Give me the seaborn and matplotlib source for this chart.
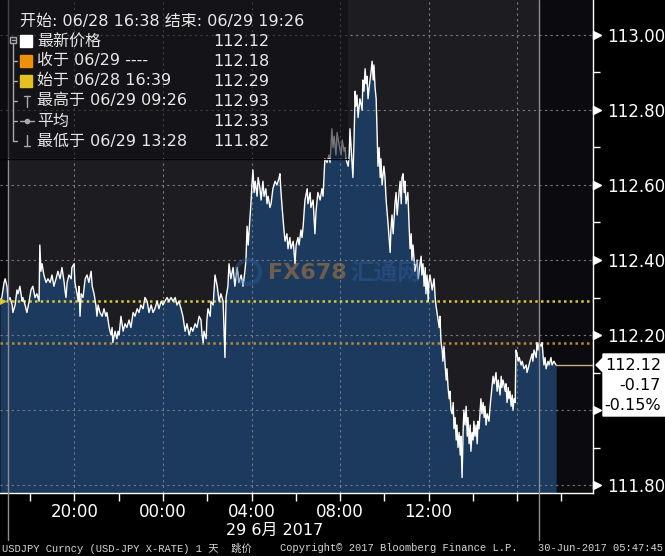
import matplotlib
matplotlib.use("Agg")
import numpy as np
import pandas as pd
import matplotlib.pyplot as plt
import seaborn as sns
from matplotlib.transforms import blended_transform_factory
from matplotlib.patches import Rectangle, Polygon, Circle

# USDJPY ticks, minutes after 06/28 16:38
t_evening = [0, 5, 11, 14, 19, 22, 27, 33, 35, 41,
             46, 49, 54, 60, 62, 68, 73, 79, 84, 89,
             95, 100, 106, 108, 111, 114, 119, 125, 130, 136,
             141, 146, 152, 157, 163, 168, 174, 176, 179, 182,
             187, 193, 195, 201, 203, 209, 212, 214, 217, 220,
             225, 231, 236, 241, 247, 250, 255, 260, 263, 266,
             271, 277, 282, 287, 290, 296, 301, 304, 306, 312,
             317]
p_evening = [112.29, 112.30, 112.34, 112.35, 112.33, 112.29, 112.30, 112.28, 112.26, 112.28,
             112.32, 112.31, 112.33, 112.29, 112.30, 112.28, 112.26, 112.29, 112.32, 112.33,
             112.30, 112.31, 112.29, 112.44, 112.37, 112.39, 112.36, 112.34, 112.35, 112.34,
             112.36, 112.33, 112.35, 112.37, 112.35, 112.38, 112.34, 112.32, 112.30, 112.34,
             112.36, 112.35, 112.38, 112.39, 112.34, 112.31, 112.29, 112.33, 112.25, 112.31,
             112.30, 112.35, 112.36, 112.34, 112.37, 112.33, 112.31, 112.28, 112.25, 112.28,
             112.26, 112.25, 112.27, 112.25, 112.26, 112.22, 112.20, 112.22, 112.18, 112.21,
             112.19]

t_night = [320, 323, 328, 334, 339, 344, 350, 355, 361, 366,
           372, 377, 382, 388, 393, 399, 404, 410, 415, 420,
           426, 431, 437, 442, 447, 453, 458, 464, 469, 475,
           480, 485, 491, 496, 502, 507, 513, 518, 523, 529,
           534, 540, 545, 548, 551, 553, 559, 561, 564, 570,
           572, 578, 583, 589, 594, 599, 605, 610, 613, 618,
           621, 626, 632, 637, 643, 648, 654, 659, 664, 667]
p_night = [112.21, 112.20, 112.25, 112.21, 112.23, 112.22, 112.24, 112.22, 112.26, 112.25,
           112.27, 112.26, 112.28, 112.27, 112.30, 112.29, 112.26, 112.28, 112.26, 112.27,
           112.29, 112.27, 112.29, 112.28, 112.29, 112.30, 112.29, 112.30, 112.29, 112.30,
           112.28, 112.29, 112.27, 112.25, 112.21, 112.23, 112.20, 112.22, 112.21, 112.23,
           112.22, 112.25, 112.24, 112.20, 112.18, 112.21, 112.19, 112.24, 112.27, 112.25,
           112.29, 112.28, 112.36, 112.33, 112.29, 112.31, 112.29, 112.14, 112.30, 112.33,
           112.39, 112.35, 112.38, 112.33, 112.38, 112.34, 112.36, 112.33, 112.37, 112.40]

t_tokyo = [670, 673, 675, 681, 683, 686, 689, 692, 697, 700,
           705, 708, 713, 716, 721, 724, 727, 732, 735, 740,
           746, 751, 757, 759, 762, 765, 770, 773, 778, 781,
           786, 789, 795, 800, 803, 808, 811, 816, 819, 822,
           827, 833, 835, 841, 843, 849, 854, 857, 862, 868,
           873, 876, 881, 887, 892, 895, 900, 903, 906, 911,
           914, 919, 925, 928, 933]
p_tokyo = [112.49, 112.44, 112.47, 112.56, 112.60, 112.64, 112.58, 112.61, 112.57, 112.62,
           112.59, 112.56, 112.61, 112.57, 112.59, 112.55, 112.57, 112.54, 112.55, 112.59,
           112.61, 112.60, 112.62, 112.63, 112.58, 112.54, 112.48, 112.45, 112.47, 112.43,
           112.46, 112.43, 112.45, 112.39, 112.44, 112.46, 112.44, 112.48, 112.46, 112.49,
           112.56, 112.59, 112.55, 112.58, 112.54, 112.56, 112.47, 112.53, 112.58, 112.56,
           112.59, 112.57, 112.67, 112.66, 112.68, 112.66, 112.75, 112.70, 112.73, 112.68,
           112.74, 112.71, 112.68, 112.72, 112.69]

t_peak = [936, 938, 944, 947, 949, 955, 957, 960, 963, 965,
          968, 971, 976, 982, 984, 987, 990, 993, 995, 998,
          1001, 1006, 1009, 1012, 1014, 1017, 1020, 1022, 1025, 1028,
          1031, 1033, 1036, 1041, 1044, 1047, 1052, 1055, 1058, 1060,
          1063, 1066, 1071, 1074, 1077, 1082, 1085, 1088, 1090, 1093,
          1096, 1098, 1101, 1106, 1109, 1112, 1115, 1117, 1120, 1125,
          1131, 1134, 1139, 1142, 1144, 1147, 1150, 1153, 1155, 1158,
          1161, 1163, 1166, 1172, 1177, 1180]
p_peak = [112.70, 112.67, 112.65, 112.68, 112.75, 112.65, 112.62, 112.72, 112.85, 112.81,
          112.84, 112.78, 112.83, 112.80, 112.88, 112.85, 112.91, 112.87, 112.89, 112.83,
          112.86, 112.90, 112.93, 112.88, 112.92, 112.86, 112.83, 112.76, 112.65, 112.70,
          112.62, 112.67, 112.60, 112.65, 112.62, 112.56, 112.50, 112.46, 112.42, 112.48,
          112.52, 112.47, 112.55, 112.58, 112.52, 112.58, 112.61, 112.55, 112.62, 112.63,
          112.58, 112.61, 112.55, 112.58, 112.50, 112.43, 112.47, 112.40, 112.44, 112.37,
          112.40, 112.35, 112.39, 112.41, 112.36, 112.39, 112.33, 112.38, 112.31, 112.36,
          112.29, 112.34, 112.36, 112.32, 112.35, 112.30]

t_afternoon = [1182, 1185, 1188, 1191, 1193, 1196, 1199, 1201, 1204, 1207,
               1210, 1212, 1215, 1218, 1220, 1223, 1226, 1229, 1231, 1234,
               1237, 1239, 1242, 1245, 1248, 1250, 1253, 1256, 1258, 1261,
               1264, 1267, 1269, 1272, 1275, 1277, 1280, 1283, 1285, 1288,
               1291, 1294, 1296, 1299, 1302, 1304, 1307, 1310, 1313, 1315,
               1318, 1321, 1326, 1329, 1334, 1337, 1340, 1345, 1348, 1351,
               1356, 1359, 1361, 1364, 1370, 1372, 1375, 1378, 1380, 1383,
               1386, 1389, 1391, 1394, 1397, 1399, 1402, 1405, 1408, 1413,
               1416, 1421, 1427, 1429, 1432, 1437, 1443, 1445, 1448, 1454,
               1456, 1459, 1462, 1467, 1470, 1473, 1475, 1478, 1481, 1486,
               1489, 1494, 1497, 1502, 1508]
p_afternoon = [112.28, 112.26, 112.24, 112.22, 112.25, 112.18, 112.16, 112.13, 112.17, 112.12,
               112.08, 112.11, 112.06, 112.03, 112.05, 112.00, 111.99, 112.02, 111.95, 111.98,
               111.92, 111.96, 111.90, 111.94, 111.88, 111.93, 111.82, 111.95, 112.00, 111.96,
               112.01, 111.93, 111.98, 111.91, 111.96, 111.89, 111.94, 111.92, 111.97, 111.93,
               111.96, 111.91, 111.97, 111.95, 112.00, 112.03, 111.99, 112.02, 111.98, 112.01,
               111.96, 111.99, 111.97, 112.01, 112.06, 112.09, 112.07, 112.10, 112.05, 112.08,
               112.04, 112.09, 112.06, 112.08, 112.05, 112.07, 112.02, 112.06, 112.03, 112.05,
               112.01, 112.04, 112.00, 112.03, 112.02, 112.16, 112.15, 112.13, 112.14, 112.12,
               112.13, 112.11, 112.12, 112.10, 112.11, 112.13, 112.15, 112.13, 112.16, 112.14,
               112.18, 112.16, 112.18, 112.17, 112.18, 112.14, 112.12, 112.14, 112.11, 112.13,
               112.12, 112.14, 112.12, 112.13, 112.12]

open_px = 112.29
close_px = 112.18
last_px = 112.12
y_major = [111.8, 112.0, 112.2, 112.4, 112.6, 112.8, 113.0]
y_major_labels = ["111.80", "", "112.20", "112.40", "112.60", "112.80", "113.00"]
y_minor = [111.9, 112.1, 112.3, 112.5, 112.7, 112.9]
x_ticks = [18, 20, 22, 24, 26, 28, 30, 32, 34, 36, 38, 40, 42]
x_tick_labels = ["", "20:00", "", "00:00", "", "04:00", "", "08:00", "", "12:00", "", "", ""]
x_grid = [20, 24, 28, 32, 36, 40]
day_breaks = [17, 41]

header = "开始: 06/28 16:38 结束: 06/29 19:26"
legend_names = ["最新价格", "收于 06/29 ----", "始于 06/28 16:39",
                "最高于 06/29 09:26", "平均", "最低于 06/29 13:28"]
legend_values = ["112.12", "112.18", "112.29", "112.93", "112.33", "111.82"]
last_box = ["112.12", "-0.17", "-0.15%"]

df = pd.DataFrame({
    "minute": t_evening + t_night + t_tokyo + t_peak + t_afternoon,
    "price": p_evening + p_night + p_tokyo + p_peak + p_afternoon,
})
start_hour = 16 + 38 / 60
df["hour"] = start_hour + df["minute"] / 60

sns.set_theme(style="dark")
plt.rcParams["font.family"] = ["DejaVu Sans", "Noto Sans CJK SC"]

W, H = 665, 556
fig = plt.figure(figsize=(W / 100, H / 100), dpi=100, facecolor="black")
ax = fig.add_axes([0, 1 - 493 / H, 593 / W, 493 / H])
ax.set_facecolor("#0b0b0f")
ymin, ymax = 111.7787, 113.0933
xmin, xmax = start_hour, 43 + 26 / 60
ax.set_xlim(xmin, xmax)
ax.set_ylim(ymin, ymax)

ax.axvspan(day_breaks[0], day_breaks[1], color="#1d1c21", lw=0, zorder=0)
ax.fill_between(df["hour"], df["price"], ymin, color="#1b3a5e", lw=0, zorder=1)
for y in y_major:
    ax.axhline(y, color="#7a7a82", lw=0.8, ls=(0, (2, 3)), zorder=2)
for x in x_grid:
    ax.axvline(x, color="#7a7a82", lw=0.8, ls=(0, (2, 3)), zorder=2)
ax.axhline(open_px, color="#d9c63a", lw=1.8, ls=(0, (1, 1.3)), zorder=3)
ax.axhline(close_px, color="#b88a3c", lw=1.8, ls=(0, (1, 1.3)), zorder=3)

sns.lineplot(data=df, x="hour", y="price", ax=ax, color="white", lw=1,
             estimator=None, sort=False, zorder=4)
ax.set_xlabel("")
ax.set_ylabel("")
ax.plot([df["hour"].iloc[-1], xmax], [last_px, last_px], color="#c9ad84", lw=1, zorder=4)
for d in day_breaks:
    ax.axvline(d, ymin=-0.095, ymax=1, color="#8c8c92", lw=1, clip_on=False, zorder=5)

ax.yaxis.tick_right()
ax.set_yticks(y_major)
ax.set_yticklabels(y_major_labels)
ax.set_yticks(y_minor, minor=True)
ax.tick_params(axis="y", which="major", length=0, pad=10, labelsize=12, labelcolor="white")
ax.tick_params(axis="y", which="minor", length=5, width=1, color="white", direction="out")
ax.set_xticks(x_ticks)
ax.set_xticklabels(x_tick_labels)
ax.tick_params(axis="x", which="major", length=6, width=1, color="white", direction="out",
               pad=1, labelsize=12, labelcolor="white", bottom=True)
for s in ["top", "left"]:
    ax.spines[s].set_visible(False)
for s in ["right", "bottom"]:
    ax.spines[s].set_visible(True)
    ax.spines[s].set_color("white")
    ax.spines[s].set_linewidth(1)

tr = blended_transform_factory(ax.transAxes, ax.transData)
ax.plot([1 + 4 / 593] * len(y_major), y_major, ls="none", marker=">", ms=6,
        color="white", transform=tr, clip_on=False, zorder=6)
ax.plot([0.004], [open_px], ls="none", marker=">", ms=5, color="#d9c63a",
        transform=tr, clip_on=False, zorder=6)

# overlay in pixel coordinates for the legend panel and labels
ov = fig.add_axes([0, 0, 1, 1])
ov.set_xlim(0, W)
ov.set_ylim(H, 0)
ov.axis("off")
ov.patch.set_alpha(0)

# watermark
ov.add_patch(Circle((248, 272), 12, fill=False, ec="#2d5a94", lw=3, alpha=0.45))
ov.text(268, 273, "FX678", fontsize=16, fontweight="bold", color="#c4823e", alpha=0.5, va="center")
ov.text(350, 273, "汇通网", fontsize=17, fontweight="bold", color="#2d5a94", alpha=0.5, va="center")

ov.add_patch(Rectangle((0, 0), 348, 158, facecolor="#0e0e12", alpha=0.58, edgecolor="none"))
ov.plot([0, 348], [158.5, 158.5], color="#050507", lw=1)
ov.text(20, 21, header, fontsize=11.5, color="#e8e8e8", va="center")
icon_colors = ["white", "#f0900a", "#e6c01e"]
gray = "#a8a8ae"
for i, (name, val) in enumerate(zip(legend_names, legend_values)):
    y = 41 + 20 * i
    ov.text(37, y, name, fontsize=11.5, color="#e8e8e8", va="center")
    ov.text(213, y, val, fontsize=11.5, color="#e8e8e8", va="center")
    if i < 3:
        ov.add_patch(Rectangle((20, y - 6), 12, 12, color=icon_colors[i]))
    if i > 0:
        ov.plot([13, 17], [y, y], color=gray, lw=1)
ov.add_patch(Rectangle((10, 37), 6, 6, fill=False, ec=gray, lw=1))
ov.plot([11.5, 14.5], [40, 40], color=gray, lw=1)
ov.plot([13, 13], [43, 141], color=gray, lw=1)
ov.plot([27, 27], [96, 107], color=gray, lw=1)
ov.plot([24, 30], [96, 96], color=gray, lw=1)
ov.plot([20, 34], [121, 121], color=gray, lw=1)
ov.plot([27], [121], marker="o", ms=3, color=gray)
ov.plot([27, 27], [135, 146], color=gray, lw=1)
ov.plot([24, 30], [146, 146], color=gray, lw=1)

# last price tag
ov.add_patch(Polygon([(596, 365), (603, 358), (603, 354), (665, 354), (665, 416),
                      (603, 416), (603, 372)], closed=True, color="white"))
for j, s in enumerate(last_box):
    ov.text(661, 366 + 19.5 * j, s, fontsize=11.5, color="black", ha="right", va="center")

ov.text(275, 530, "29 6月 2017", fontsize=11.5, color="white", ha="center", va="center")
mono = ["Liberation Mono", "Noto Sans CJK SC"]
ov.text(2, 548, "USDJPY Curncy (USD-JPY X-RATE) 1 天  跳价", fontsize=7.5, family=mono,
        color="#d8d8d8", va="center")
ov.text(280, 548, "Copyright© 2017 Bloomberg Finance L.P.", fontsize=7.5, family=mono,
        color="#d8d8d8", va="center")
ov.text(663, 548, "30-Jun-2017 05:47:45", fontsize=7.5, family=mono,
        color="#d8d8d8", va="center", ha="right")

fig.savefig("out.png", dpi=100, facecolor="black")
